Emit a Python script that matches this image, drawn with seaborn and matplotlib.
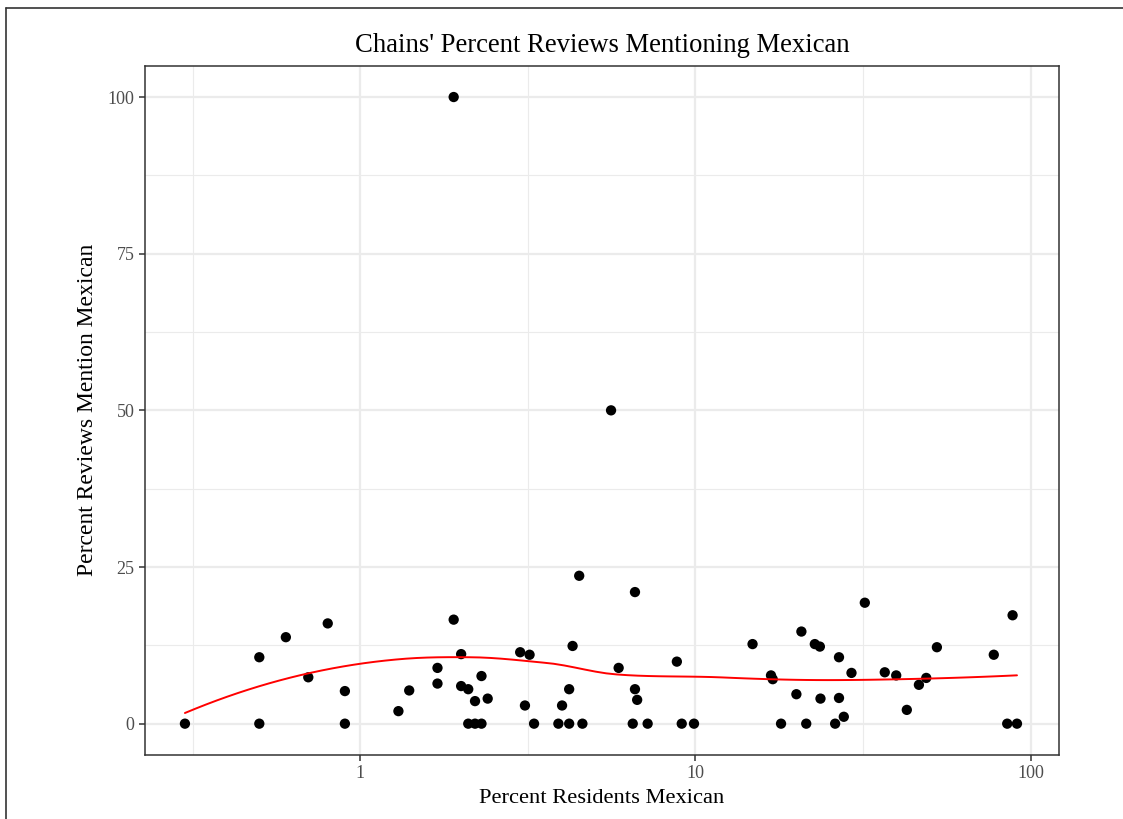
import numpy as np
import pandas as pd
import matplotlib
matplotlib.use("Agg")
import matplotlib.pyplot as plt
from matplotlib.lines import Line2D
import seaborn as sns

# ---- data ----
pct_residents_mexican = [
    0.3, 0.5, 0.5, 0.6, 0.7, 0.8, 0.9, 0.9, 1.3, 1.4,
    1.7, 1.7, 1.9, 1.9, 2.0, 2.0, 2.1, 2.1, 2.2, 2.3,
    2.2, 2.3, 2.4, 3.0, 3.1, 3.2, 3.3, 3.9, 4.0, 4.2,
    4.2, 4.3, 4.5, 4.6, 5.6, 5.9, 6.5, 6.6, 6.6, 6.7,
    7.2, 8.8, 9.1, 9.9, 14.8, 16.8, 17.0, 18.0, 20.0, 20.7,
    21.4, 22.7, 23.5, 23.6, 26.1, 26.8, 26.8, 27.7, 29.2, 32.0,
    36.7, 39.7, 42.7, 46.4, 48.8, 52.5, 77.6, 85.1, 88.3, 91.0,
]
pct_reviews_mention = [
    0.0, 10.6, 0.0, 13.8, 7.4, 16.0, 5.2, 0.0, 2.0, 5.3,
    8.9, 6.4, 16.6, 100.0, 11.1, 6.0, 5.5, 0.0, 0.0, 0.0,
    3.6, 7.6, 4.0, 11.4, 2.9, 11.0, 0.0, 0.0, 2.9, 5.5,
    0.0, 12.4, 23.6, 0.0, 50.0, 8.9, 0.0, 21.0, 5.5, 3.8,
    0.0, 9.9, 0.0, 0.0, 12.7, 7.7, 7.1, 0.0, 4.7, 14.7,
    0.0, 12.7, 12.3, 4.0, 0.0, 10.6, 4.1, 1.1, 8.1, 19.3,
    8.2, 7.7, 2.2, 6.2, 7.3, 12.2, 11.0, 0.0, 17.3, 0.0,
]
x_ticks = [1, 10, 100]
x_tick_labels = ["1", "10", "100"]
y_ticks = [0, 25, 50, 75, 100]
title = "Chains' Percent Reviews Mentioning Mexican"
x_title = "Percent Residents Mexican"
y_title = "Percent Reviews Mention Mexican"

df = pd.DataFrame({"x": pct_residents_mexican, "y": pct_reviews_mention})


# ---- loess (span 0.75, degree 2, kd-tree + cubic Hermite interpolation like R) ----
def local_fit(xv, yv, x0, q):
    d = np.abs(xv - x0)
    dq = np.sort(d)[q - 1]
    u = np.clip(d / dq, 0, 1)
    w = (1 - u ** 3) ** 3
    X = np.column_stack([np.ones(len(xv)), xv - x0, (xv - x0) ** 2])
    W = np.sqrt(w)
    beta, *_ = np.linalg.lstsq(X * W[:, None], yv * W, rcond=None)
    return beta[0], beta[1]


def kd_vertices(xs, fc):
    xs = np.sort(xs)
    lo, hi = xs[0], xs[-1]
    mu = 0.005 * (hi - lo)
    verts = {lo - mu, hi + mu}

    def split(l, u):
        if u - l + 1 <= fc:
            return
        m = (l + u) // 2
        off = 0
        while l <= m + off < u:
            if xs[m + off] == xs[m + off + 1]:
                off = -off
                if off >= 0:
                    off += 1
            else:
                m = m + off
                break
        else:
            return
        v = (xs[m] + xs[m + 1]) / 2
        verts.add(v)
        split(l, m)
        split(m + 1, u)

    split(0, len(xs) - 1)
    return np.array(sorted(verts))


def loess(xv, yv, xgrid, span=0.75, cell=0.2):
    n = len(xv)
    q = int(np.floor(span * n))
    fc = int(np.floor(n * span * cell))
    vx = kd_vertices(xv, fc)
    vals = np.array([local_fit(xv, yv, v, q) for v in vx])
    out = []
    for x0 in xgrid:
        i = np.clip(np.searchsorted(vx, x0) - 1, 0, len(vx) - 2)
        x1, x2 = vx[i], vx[i + 1]
        h = x2 - x1
        t = (x0 - x1) / h
        f1, d1 = vals[i]
        f2, d2 = vals[i + 1]
        h00 = 2 * t ** 3 - 3 * t ** 2 + 1
        h10 = t ** 3 - 2 * t ** 2 + t
        h01 = -2 * t ** 3 + 3 * t ** 2
        h11 = t ** 3 - t ** 2
        out.append(h00 * f1 + h10 * h * d1 + h01 * f2 + h11 * h * d2)
    return np.array(out)


lx = np.log10(df["x"].to_numpy())
grid = np.linspace(lx.min(), lx.max(), 80)
smooth = pd.DataFrame({"x": 10 ** grid,
                       "y": loess(lx, df["y"].to_numpy(), grid)})

# ---- figure ----
sns.set_theme(style="white")
plt.rcParams["font.family"] = ["Liberation Serif", "DejaVu Serif"]

fig = plt.figure(figsize=(11.23, 8.19), dpi=100)
ax = fig.add_axes([145 / 1123, 1 - 755 / 819, (1058.7 - 145) / 1123, (755 - 65.7) / 819])

ax.set_xscale("log")
ax.set_xlim(10 ** -0.642, 10 ** 2.0835)
ax.set_ylim(-5, 105)

# grid lines (theme_bw-like)
for v in [10 ** -0.5, 10 ** 0.5, 10 ** 1.5]:
    ax.axvline(v, color="#EBEBEB", lw=0.8, zorder=0)
for v in [12.5, 37.5, 62.5, 87.5]:
    ax.axhline(v, color="#EBEBEB", lw=0.8, zorder=0)
for v in x_ticks:
    ax.axvline(v, color="#EBEBEB", lw=1.6, zorder=0)
for v in y_ticks:
    ax.axhline(v, color="#EBEBEB", lw=1.6, zorder=0)

sns.scatterplot(data=df, x="x", y="y", ax=ax, color="black", s=55,
                edgecolor="none", zorder=3, legend=False)
sns.lineplot(data=smooth, x="x", y="y", ax=ax, color="red", lw=1.4,
             zorder=4, legend=False)

ax.set_xticks(x_ticks)
ax.set_xticklabels(x_tick_labels)
ax.xaxis.set_minor_locator(matplotlib.ticker.NullLocator())
ax.set_yticks(y_ticks)
ax.set_yticklabels([str(v) for v in y_ticks])
ax.tick_params(axis="both", which="major", length=4.5, width=1.1,
               color="#333333", labelsize=13, labelcolor="#4D4D4D", pad=3,
               bottom=True, left=True)

for sp in ax.spines.values():
    sp.set_color("#333333")
    sp.set_linewidth(1.1)

ax.set_xlabel(x_title, fontsize=16.2, color="black", labelpad=5)
ax.set_ylabel(y_title, fontsize=17, color="black", labelpad=7)

ax.set_title(title, fontsize=19.2, color="black", pad=10)

# outer border (left and top visible in the reference)
fig.add_artist(Line2D([6 / 1123, 6 / 1123], [0, 1 - 8 / 819],
                      transform=fig.transFigure, color="#333333", lw=1.2))
fig.add_artist(Line2D([6 / 1123, 1], [1 - 8 / 819, 1 - 8 / 819],
                      transform=fig.transFigure, color="#333333", lw=1.2))

fig.savefig("out.png", dpi=100, facecolor="white")
